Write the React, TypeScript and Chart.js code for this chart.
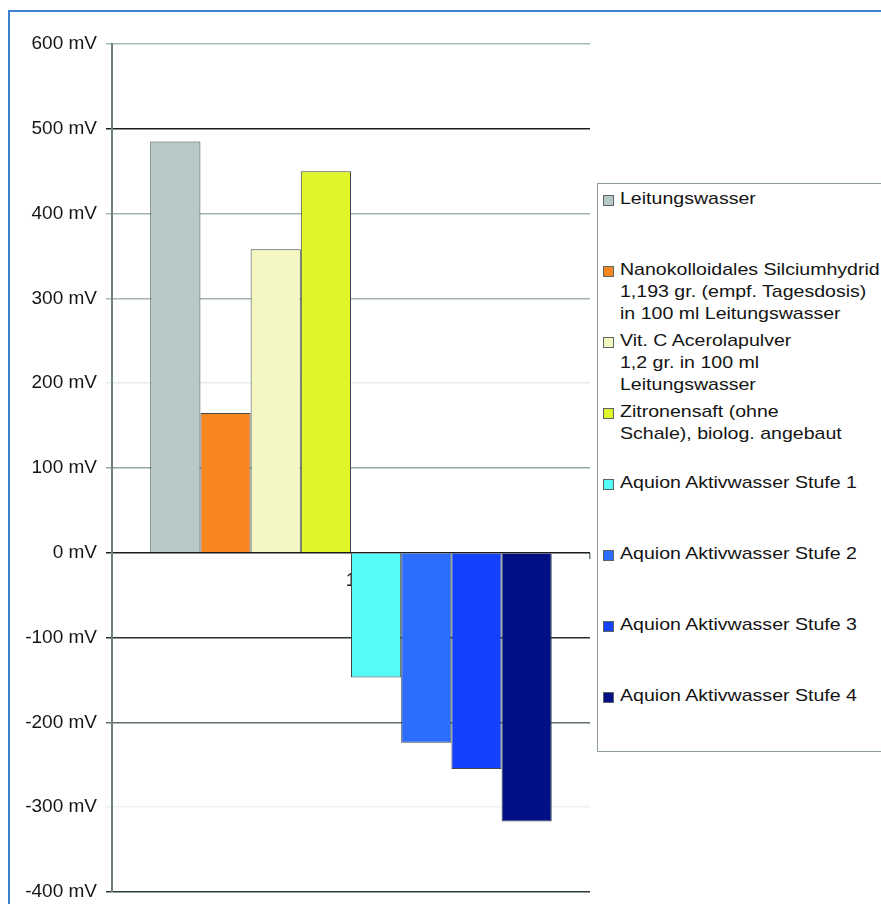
import React, { useEffect, useRef } from "react";
import { Chart, registerables } from "chart.js";

Chart.register(...registerables);

const categories = ["1"];

const seriesNames = [
  "Leitungswasser",
  "Nanokolloidales Silciumhydrid 1,193 gr. (empf. Tagesdosis) in 100 ml Leitungswasser",
  "Vit. C Acerolapulver 1,2 gr. in 100 ml Leitungswasser",
  "Zitronensaft (ohne Schale), biolog. angebaut",
  "Aquion Aktivwasser Stufe 1",
  "Aquion Aktivwasser Stufe 2",
  "Aquion Aktivwasser Stufe 3",
  "Aquion Aktivwasser Stufe 4",
];

const legendLines = [
  ["Leitungswasser"],
  ["Nanokolloidales Silciumhydrid", "1,193 gr. (empf. Tagesdosis)", "in 100 ml Leitungswasser"],
  ["Vit. C Acerolapulver", "1,2 gr. in 100 ml", "Leitungswasser"],
  ["Zitronensaft (ohne", "Schale), biolog. angebaut"],
  ["Aquion Aktivwasser Stufe 1"],
  ["Aquion Aktivwasser Stufe 2"],
  ["Aquion Aktivwasser Stufe 3"],
  ["Aquion Aktivwasser Stufe 4"],
];

const seriesValues = [485, 165, 358, 450, -147, -224, -255, -317];

const seriesColors = [
  "#b6c8c7",
  "#f7861f",
  "#f5f7c2",
  "#e0f52a",
  "#55fbf6",
  "#2c6dfd",
  "#1442fc",
  "#030f85",
];

const yTickValues = [600, 500, 400, 300, 200, 100, 0, -100, -200, -300, -400];
const yGridColors = [
  "#a9bcb9",
  "#1a1f1e",
  "#a4b4b1",
  "#a4b4b1",
  "#e6ecec",
  "#93a6a3",
  "#1a1f1e",
  "#26302e",
  "#5f706d",
  "#edf1f1",
  "#2d3b38",
];

const FONT = "'Liberation Sans', Arial, sans-serif";

export default function App() {
  const canvasRef = useRef<HTMLCanvasElement | null>(null);

  useEffect(() => {
    const canvas = canvasRef.current;
    if (!canvas) return;
    const chart = new Chart(canvas, {
      type: "bar",
      data: {
        labels: categories,
        datasets: seriesNames.map((name, i) => ({
          label: name,
          data: [seriesValues[i]],
          backgroundColor: seriesColors[i],
          borderColor: "#3e4a48",
          borderWidth: 1,
          barPercentage: 1,
          categoryPercentage: 0.84,
        })),
      },
      options: {
        animation: false,
        responsive: false,
        maintainAspectRatio: false,
        layout: { padding: { left: 0, top: 44, right: 291, bottom: 12 } },
        plugins: {
          legend: { display: false },
          tooltip: { enabled: false },
        },
        scales: {
          x: {
            type: "category",
            position: { y: 0 } as any,
            afterFit: (scale: any) => {
              scale.height = 0;
              scale.paddingLeft = 0;
              scale.paddingRight = 0;
              scale.paddingTop = 0;
              scale.paddingBottom = 0;
            },
            grid: {
              display: true,
              drawOnChartArea: false,
              drawTicks: true,
              tickLength: 6,
              color: "#6e7f7c",
              lineWidth: 1.5,
              offset: true,
            },
            border: { display: false },
            ticks: {
              color: "#151515",
              font: { family: FONT, size: 19 },
              padding: 11,
            },
          },
          y: {
            min: -400,
            max: 600,
            afterFit: (scale: any) => {
              scale.width = 112;
              scale.paddingTop = 0;
              scale.paddingBottom = 0;
            },
            afterBuildTicks: (scale: any) => {
              scale.ticks = yTickValues.map((v) => ({ value: v }));
            },
            grid: {
              color: (ctx: any) => {
                const idx = yTickValues.indexOf(ctx.tick?.value);
                return idx >= 0 ? yGridColors[idx] : "#a4b4b1";
              },
              lineWidth: 1.5,
              tickLength: 6,
              drawTicks: true,
            },
            border: { display: true, color: "#6e7f7c", width: 2 },
            ticks: {
              color: "#151515",
              font: { family: FONT, size: 19 },
              padding: 9,
              callback: (v: any) => `${v} mV`,
            },
          },
        },
      },
    });
    return () => chart.destroy();
  }, []);

  return (
    <div
      style={{
        position: "absolute",
        left: 0,
        top: 0,
        width: 881,
        height: 904,
        overflow: "hidden",
        background: "#ffffff",
      }}
    >
      <canvas
        ref={canvasRef}
        width={881}
        height={904}
        style={{ position: "absolute", left: 0, top: 0, width: 881, height: 904 }}
      />
      <div
        style={{
          position: "absolute",
          left: 8,
          top: 10,
          width: 1000,
          height: 1000,
          borderLeft: "2px solid #3f7fd2",
          borderTop: "2px solid #3f7fd2",
          pointerEvents: "none",
        }}
      />
      <div
        style={{
          position: "absolute",
          left: 597,
          top: 183,
          width: 400,
          height: 567,
          border: "1.5px solid #8d9b99",
          background: "#ffffff",
          fontFamily: FONT,
          fontSize: 17,
          color: "#141414",
        }}
      >
        {legendLines.map((lines, i) => (
          <div
            key={i}
            style={{ position: "absolute", left: 0, top: 71 * i + 4, height: 71, width: 400 }}
          >
            <div
              style={{
                position: "absolute",
                left: 5,
                top: 7,
                width: 9,
                height: 9,
                background: seriesColors[i],
                border: "1px solid #5a6664",
              }}
            />
            <div
              style={{
                position: "absolute",
                left: 22,
                top: 0,
                lineHeight: "22px",
                whiteSpace: "nowrap",
                transform: "scaleX(1.15)",
                transformOrigin: "left top",
              }}
            >
              {lines.map((l, j) => (
                <div key={j}>{l}</div>
              ))}
            </div>
          </div>
        ))}
      </div>
    </div>
  );
}
